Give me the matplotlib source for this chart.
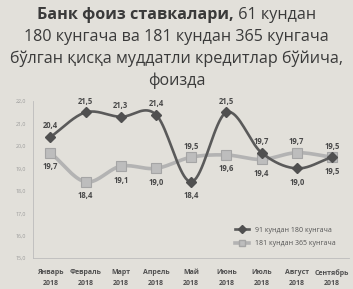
import matplotlib
matplotlib.use("Agg")
import matplotlib.pyplot as plt
import numpy as np

months = ["Январь", "Февраль", "Март", "Апрель", "Май", "Июнь", "Июль", "Август", "Сентябрь"]
years = ["2018"] * 9
short_rates = [20.4, 21.5, 21.3, 21.4, 18.4, 21.5, 19.7, 19.0, 19.5]
long_rates = [19.7, 18.4, 19.1, 19.0, 19.5, 19.6, 19.4, 19.7, 19.5]
short_label_pos = ["up", "up", "up", "up", "down", "up", "up", "down", "up"]
long_label_pos = ["down", "down", "down", "down", "up", "down", "down", "up", "down"]
y_ticks = [15.0, 16.0, 17.0, 18.0, 19.0, 20.0, 21.0, 22.0]
legend_names = ["91 кундан 180 кунгача", "181 кундан 365 кунгача"]

plt.rcParams["font.family"] = ["Open Sans", "DejaVu Sans"]
BG = "#e2e0da"


def smooth(xs, ys, n=20):
    # catmull-rom style smoothing like Excel's smoothed lines
    xs = np.asarray(xs, float)
    ys = np.asarray(ys, float)
    px = np.concatenate([[2 * xs[0] - xs[1]], xs, [2 * xs[-1] - xs[-2]]])
    py = np.concatenate([[2 * ys[0] - ys[1]], ys, [2 * ys[-1] - ys[-2]]])
    ox, oy = [], []
    for i in range(1, len(px) - 2):
        t = np.linspace(0, 1, n, endpoint=False)
        for p, out in ((px, ox), (py, oy)):
            p0, p1, p2, p3 = p[i - 1], p[i], p[i + 1], p[i + 2]
            out.extend(0.5 * (2 * p1 + (-p0 + p2) * t
                              + (2 * p0 - 5 * p1 + 4 * p2 - p3) * t ** 2
                              + (-p0 + 3 * p1 - 3 * p2 + p3) * t ** 3))
    ox.append(xs[-1])
    oy.append(ys[-1])
    return ox, oy


fig = plt.figure(figsize=(3.53, 2.89), dpi=100, facecolor=BG)
ax = fig.add_axes([0.093, 0.107, 0.897, 0.543], facecolor=BG)

x = np.arange(len(months))

sx, sy = smooth(x, long_rates)
ax.plot(sx, sy, color="#b3b3b3", lw=2.6, zorder=2)
ax.plot(x, long_rates, ls="none", marker="s", ms=7, mfc="#bdbdbd", mec="#a5a5a5",
        mew=0.8, zorder=3)
sx, sy = smooth(x, short_rates)
ax.plot(sx, sy, color="#5a5a5a", lw=1.9, zorder=4)
ax.plot(x, short_rates, ls="none", marker="D", ms=5, mfc="#505050", mec="#505050", zorder=5)

for xi, v, pos in zip(x, short_rates, short_label_pos):
    off = 8 if pos == "up" else -10
    ax.annotate(f"{v:.1f}".replace(".", ","), (xi, v), xytext=(0, off), textcoords="offset points",
                ha="center", va="center", fontsize=5.5, fontweight="bold", color="#4a4a4a",
                annotation_clip=False)
for xi, v, pos in zip(x, long_rates, long_label_pos):
    off = 8 if pos == "up" else -10
    ax.annotate(f"{v:.1f}".replace(".", ","), (xi, v), xytext=(0, off), textcoords="offset points",
                ha="center", va="center", fontsize=5.5, fontweight="bold", color="#4a4a4a",
                annotation_clip=False)

ax.set_xlim(-0.5, len(months) - 0.5)
ax.set_ylim(15, 22)
ax.set_yticks(y_ticks)
ax.set_yticklabels([f"{v:.1f}".replace(".", ",") for v in y_ticks], fontsize=3.8, color="#9a9a9a")
ax.set_xticks(x)
ax.set_xticklabels([f"{m}\n{y}" for m, y in zip(months, years)], fontsize=5, color="#505050",
                   fontweight="bold", linespacing=1.7)
ax.tick_params(axis="x", length=0, pad=8)
ax.tick_params(axis="y", length=0, pad=5)
for s in ["top", "right"]:
    ax.spines[s].set_visible(False)
ax.spines["left"].set_color("#bcbcbc")
ax.spines["left"].set_linewidth(0.6)
ax.spines["bottom"].set_color("#bcbcbc")
ax.spines["bottom"].set_linewidth(0.6)

h1, = ax.plot([], [], color="#5a5a5a", lw=1.9, marker="D", ms=4, mfc="#505050", mec="#505050")
h2, = ax.plot([], [], color="#b3b3b3", lw=2.6, marker="s", ms=5, mfc="#bdbdbd", mec="#a5a5a5")
leg = ax.legend([h1, h2], legend_names, loc="lower right", bbox_to_anchor=(0.975, 0.03),
                frameon=False, fontsize=5, handlelength=2.0, handletextpad=0.8,
                labelspacing=0.9, labelcolor="#555555")

# title: bold start, regular rest
fig.canvas.draw()
r = fig.canvas.get_renderer()
title_color = "#3a3a3a"
fs = 11.6
y0 = 1 - 15 / 289
t1 = fig.text(0, y0, "Банк фоиз ставкалари,", fontsize=fs, fontweight="bold",
              color=title_color, va="center", ha="left")
t2 = fig.text(0, y0, " 61 кундан", fontsize=fs, color=title_color, va="center", ha="left")
w1 = t1.get_window_extent(r).width / fig.bbox.width
w2 = t2.get_window_extent(r).width / fig.bbox.width
start = 0.5 - (w1 + w2) / 2
t1.set_x(start)
t2.set_x(start + w1)
rest = ["180 кунгача ва 181 кундан 365 кунгача",
        "бўлган қисқа муддатли кредитлар бўйича,",
        "фоизда"]
for i, line in enumerate(rest):
    fig.text(0.5, y0 - (i + 1) * 21.8 / 289, line, fontsize=fs, color=title_color,
             ha="center", va="center")

fig.savefig("out.png", dpi=100, facecolor=BG)
